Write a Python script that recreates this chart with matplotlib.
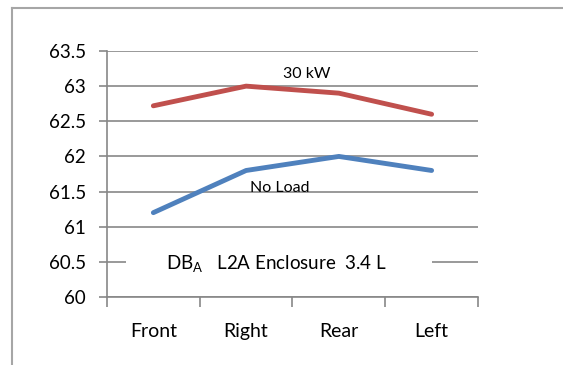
import numpy as np
import matplotlib.pyplot as plt
from matplotlib.lines import Line2D
from matplotlib.patches import Rectangle

plt.rcParams['font.family'] = ['Lato', 'DejaVu Sans']

categories = ['Front', 'Right', 'Rear', 'Left']
load_30kw = [62.72, 63.0, 62.9, 62.6]
no_load = [61.2, 61.8, 62.0, 61.8]
yticks = [60, 60.5, 61, 61.5, 62, 62.5, 63, 63.5]

fig = plt.figure(figsize=(5.63, 3.65), dpi=100)
ax = fig.add_axes([0.190, 0.1863, 0.659, 0.674])

x = np.arange(len(categories))
ax.plot(x, load_30kw, color='#C0504D', lw=3.5, solid_capstyle='round', zorder=3)
ax.plot(x, no_load, color='#4F81BD', lw=3.5, solid_capstyle='round', zorder=3)

ax.set_xlim(-0.5, len(categories) - 0.5)
ax.set_ylim(60, 63.5)
ax.set_yticks(yticks)
ax.set_yticklabels(['60', '60.5', '61', '61.5', '62', '62.5', '63', '63.5'], fontsize=13.5)
ax.set_xticks(x)
ax.set_xticklabels(categories, fontsize=14)
ax.tick_params(axis='x', which='major', length=0, pad=19)
ax.set_xticks(np.arange(-0.5, len(categories), 1.0), minor=True)
ax.tick_params(axis='x', which='minor', length=7, color='#878787', width=1.2, direction='out')
ax.tick_params(axis='y', length=6, color='#878787', width=1.2, pad=9)

ax.grid(axis='y', color='#878787', lw=1.2, zorder=1)
for s in ['top', 'right']:
    ax.spines[s].set_visible(False)
for s in ['left', 'bottom']:
    ax.spines[s].set_color('#878787')
    ax.spines[s].set_linewidth(1.2)

ax.text(1.65, 63.17, '30 kW', fontsize=11.5, ha='center', va='center', zorder=4)
ax.text(1.36, 61.55, 'No Load', fontsize=11.5, ha='center', va='center', zorder=4)
# white label box sitting over the 60.5 gridline
ax.add_patch(Rectangle((-0.3, 60.3), 3.3, 0.4, facecolor='white', edgecolor='none', zorder=2))
ax.text(1.33, 60.47, r'DB$_\mathregular{A}$   L2A Enclosure  3.4 L', fontsize=13.5,
        ha='center', va='center', zorder=4)

# outer border of the chart area (cut off at right and bottom)
bx = 12 / 563
by = 1 - 8 / 365
fig.add_artist(Line2D([bx, bx], [0, by], transform=fig.transFigure, color='#A6A6A6', lw=1.5))
fig.add_artist(Line2D([bx, 1], [by, by], transform=fig.transFigure, color='#A6A6A6', lw=1.5))

fig.savefig('out.png', dpi=100)
